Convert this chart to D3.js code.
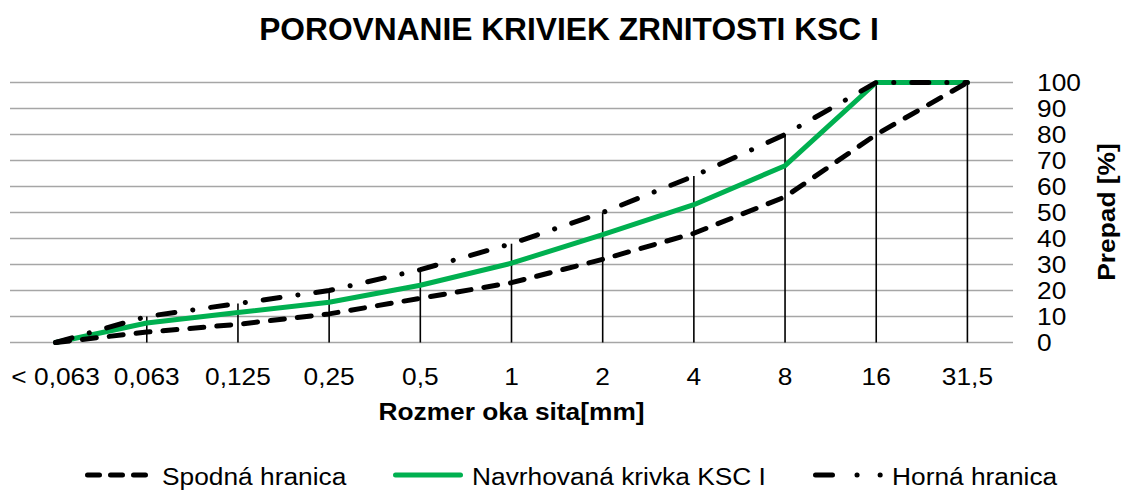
<!DOCTYPE html>
<html>
<head>
<meta charset="utf-8">
<script src="https://cdn.jsdelivr.net/npm/d3@7"></script>
<style>
  body { margin: 0; background: #fff; }
  text { font-family: "Liberation Sans", Arial, sans-serif; fill: #000; }
</style>
</head>
<body>
<svg id="chart" width="1122" height="490"></svg>
<script>
const sieves = ['< 0,063', '0,063', '0,125', '0,25', '0,5', '1', '2', '4', '8', '16', '31,5'];
const lowerLimit = [0, 4, 7, 11, 17, 23, 32, 42, 56, 80, 100];
const designCurve = [0, 7.5, 11.5, 15.5, 22, 30.5, 41.5, 53, 68, 100, 100];
const upperLimit = [0, 10, 15, 20, 28, 38, 50, 64, 80, 100, 100];
const yTicks = [0, 10, 20, 30, 40, 50, 60, 70, 80, 90, 100];

const svg = d3.select('#chart');
const plotLeft = 10, plotRight = 1013, plotTop = 82.5, plotBottom = 342.5;
const stretch = 1.12; // reference text is a bit wide for its height

const x = d3.scalePoint().domain(sieves).range([plotLeft, plotRight]).padding(0.5);
const y = d3.scaleLinear().domain([0, 100]).range([plotBottom, plotTop]);

// title
svg.append('text')
  .attr('transform', 'translate(569,40) scale(1.03,1)')
  .attr('text-anchor', 'middle')
  .style('font-size', '30.8px').style('font-weight', 'bold')
  .text('POROVNANIE KRIVIEK ZRNITOSTI KSC I');

// grid
svg.append('g').selectAll('line')
  .data(yTicks)
  .enter().append('line')
  .attr('x1', plotLeft).attr('x2', plotRight)
  .attr('y1', d => y(d)).attr('y2', d => y(d))
  .attr('stroke', '#a6a6a6').attr('stroke-width', 1.5);

// right axis labels
svg.append('g').selectAll('text')
  .data(yTicks)
  .enter().append('text')
  .attr('transform', d => `translate(1037,${y(d) + 8.5}) scale(${stretch},1)`)
  .style('font-size', '23.5px')
  .text(d => d);

svg.append('text')
  .attr('transform', `translate(1115,212) rotate(-90) scale(${stretch},1)`)
  .attr('text-anchor', 'middle')
  .style('font-size', '23.5px').style('font-weight', 'bold')
  .text('Prepad [%]');

// x labels
svg.append('g').selectAll('text')
  .data(sieves)
  .enter().append('text')
  .attr('transform', d => `translate(${x(d)},385) scale(${stretch},1)`)
  .attr('text-anchor', 'middle')
  .style('font-size', '23.5px')
  .text(d => d);

svg.append('text')
  .attr('transform', `translate(${x('1')},420) scale(${stretch},1)`)
  .attr('text-anchor', 'middle')
  .style('font-size', '23.5px').style('font-weight', 'bold')
  .text('Rozmer oka sita[mm]');

// drop lines from upper limit
svg.append('g').selectAll('line')
  .data(upperLimit.map((v, i) => ({ k: sieves[i], v })).filter(d => d.v > 0))
  .enter().append('line')
  .attr('x1', d => x(d.k)).attr('x2', d => x(d.k))
  .attr('y1', d => y(d.v)).attr('y2', y(0))
  .attr('stroke', '#000').attr('stroke-width', 1.6);

const line = d3.line().x((d, i) => x(sieves[i])).y(d => y(d));

const series = [
  { name: 'Spodná hranica', values: lowerLimit, color: '#000', dash: '14 13', legDash: '12 11', lx1: 87.5, lx2: 145.5, tx: 162 },
  { name: 'Navrhovaná krivka KSC I', values: designCurve, color: '#00b050', dash: null, legDash: null, lx1: 395.5, lx2: 460.5, tx: 472 },
  { name: 'Horná hranica', values: upperLimit, color: '#000', dash: '17 18 0.1 18', legDash: '17 24.5 0.1 23 0.1 100', lx1: 815.5, lx2: 881, tx: 892 }
];

[series[1], series[0], series[2]].forEach(s => {
  svg.append('path')
    .datum(s.values)
    .attr('d', line)
    .attr('fill', 'none')
    .attr('stroke', s.color)
    .attr('stroke-width', 5)
    .attr('stroke-linecap', 'round')
    .attr('stroke-linejoin', 'round')
    .attr('stroke-dasharray', s.dash);
});

// legend
series.forEach(s => {
  svg.append('line')
    .attr('x1', s.lx1).attr('x2', s.lx2)
    .attr('y1', 475).attr('y2', 475)
    .attr('stroke', s.color)
    .attr('stroke-width', 5)
    .attr('stroke-linecap', 'round')
    .attr('stroke-dasharray', s.legDash);
  svg.append('text')
    .attr('transform', `translate(${s.tx},485) scale(${stretch},1)`)
    .style('font-size', '23.5px')
    .text(s.name);
});
</script>
</body>
</html>
